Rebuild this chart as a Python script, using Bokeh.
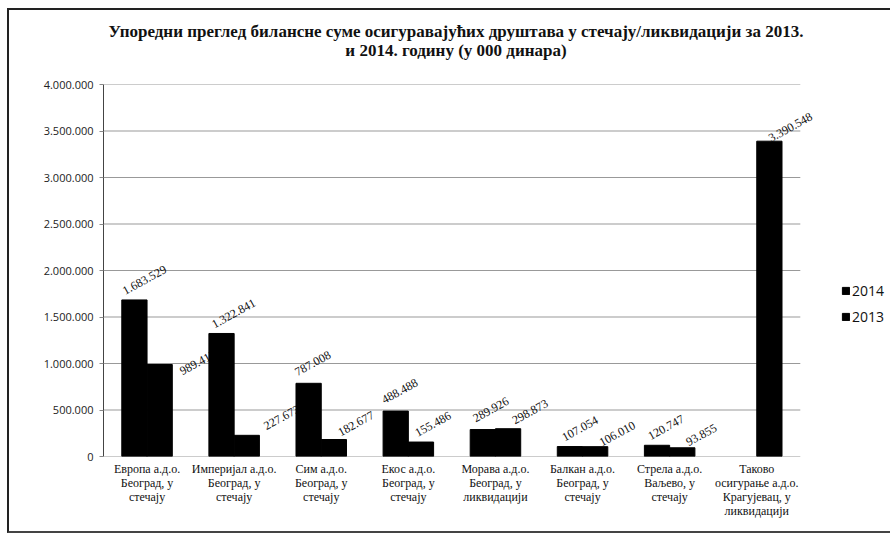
from bokeh.plotting import figure
from bokeh.models import (ColumnDataSource, Range1d, FixedTicker,
                          CustomJSTickFormatter, Legend, LegendItem, Div)
from bokeh.layouts import column
from bokeh.transform import dodge
from bokeh.core.properties import value
from bokeh.embed import file_html
from bokeh.resources import INLINE

# ---- data ----
categories = [
    "Европа а.д.о.\nБеоград, у\nстечају",
    "Империјал а.д.о.\nБеоград, у\nстечају",
    "Сим а.д.о.\nБеоград, у\nстечају",
    "Екос а.д.о.\nБеоград, у\nстечају",
    "Морава а.д.о.\nБеоград, у\nликвидацији",
    "Балкан а.д.о.\nБеоград, у\nстечају",
    "Стрела а.д.о.\nВаљево, у\nстечају",
    "Таково\nосигурање а.д.о.\nКрагујевац, у\nликвидацији",
]
values_2014 = [1683529, 1322841, 787008, 488488, 289926, 107054, 120747, float("nan")]
values_2013 = [989412, 227673, 182677, 155486, 298873, 106010, 93855, 3390548]
y_ticks = [0, 500000, 1000000, 1500000, 2000000, 2500000, 3000000, 3500000, 4000000]
series_names = ["2014", "2013"]

title_line1 = "Упоредни преглед билансне суме осигуравајућих друштава у стечају/ликвидацији за 2013."
title_line2 = "и 2014. годину (у 000 динара)"

def fmt(v):
    return "" if v != v else f"{int(v):,}".replace(",", ".")

n = len(categories)
idx = list(range(n))

# label pixel offsets (style only; screen y grows downward)
dx14 = [10, 12, 4, 4, 8, 10, 9, 0]
dy14 = [-20, -20, -20, -20, -20, -18, -18, 0]
dx13 = [38, 35, 22, 12, 22, 22, 19, 21]
dy13 = [-2, -18, -16, -18, -17, -13, -13, -14]

src = ColumnDataSource(dict(
    idx=idx, v14=values_2014, v13=values_2013,
    l14=[fmt(v) for v in values_2014], l13=[fmt(v) for v in values_2013],
    dx14=dx14, dy14=dy14, dx13=dx13, dy13=dy13,
))

W, H = 881, 457
title_div = Div(
    text=(f'<div style="display:block;width:{W}px;box-sizing:border-box;'
          f'padding-top:12px;padding-left:13px;text-align:center;'
          f'font-family:\'Liberation Serif\';font-weight:bold;font-size:17px;'
          f'line-height:19px;color:#111111">{title_line1}<br>{title_line2}</div>'),
    width=W, height=64)
title_div.margin = 0

# layout geometry (pixels)
ML, MR, MT, MB = 94, 2, 10, 75
cat_px = 87.1                       # width of one category slot in the reference
x_end = -0.5 + (W - ML - MR) / cat_px

p = figure(width=W, height=H, x_range=Range1d(-0.5, x_end),
           y_range=Range1d(0, 4000000), output_backend="svg", toolbar_location=None,
           min_border_left=ML, min_border_right=MR, min_border_bottom=MB, min_border_top=MT)
p.margin = 0
p.title.visible = False
p.outline_line_color = None
p.background_fill_color = "white"
p.xgrid.grid_line_color = None
p.ygrid.grid_line_color = None

# horizontal grid lines over the category span only
p.segment(x0=[-0.5] * len(y_ticks), x1=[n - 0.5] * len(y_ticks), y0=y_ticks, y1=y_ticks,
          line_color="#999999", line_width=1)

xl14 = dodge("idx", -0.145)
xl13 = dodge("idx", 0.145)

# labels first so that bars cover overlapping tails (as in reference)
for xx, yy, tt, dx, dy in [(xl14, "v14", "l14", "dx14", "dy14"), (xl13, "v13", "l13", "dx13", "dy13")]:
    p.text(x=xx, y=yy, text=tt, source=src, x_offset=dx, y_offset=dy, angle=0.5,
           text_align="center", text_baseline="middle",
           text_font=value("Liberation Serif"), text_font_size="12px", text_color="#111111")

r14 = p.vbar(x=xl14, top="v14", width=0.29, source=src, fill_color="black", line_color="black")
r13 = p.vbar(x=xl13, top="v13", width=0.29, source=src, fill_color="black", line_color="black")

legend = Legend(items=[LegendItem(label=series_names[0], renderers=[r14]),
                       LegendItem(label=series_names[1], renderers=[r13])],
                location=(738, 130), padding=0, margin=0, border_line_color=None,
                background_fill_alpha=0, glyph_width=9, glyph_height=9, label_height=14,
                label_standoff=2, spacing=7,
                label_text_font="Open Sans", label_text_font_size="14px", label_text_color="#111111")
p.add_layout(legend)

p.yaxis.ticker = FixedTicker(ticks=y_ticks)
p.yaxis.formatter = CustomJSTickFormatter(code="return tick.toFixed(0).replace(/\\B(?=(\\d{3})+(?!\\d))/g, '.');")
p.yaxis.major_label_text_font = "Open Sans"
p.yaxis.major_label_text_font_size = "11px"
p.yaxis.major_label_text_color = "#222222"
p.yaxis.axis_line_color = "#444444"
p.yaxis.major_tick_out = 4
p.yaxis.major_tick_in = 0
p.yaxis.major_tick_line_color = "#888888"
p.yaxis.minor_tick_line_color = None
p.yaxis.major_label_standoff = 6

p.xaxis.ticker = FixedTicker(ticks=idx)
p.xaxis.major_label_overrides = {i: c for i, c in zip(idx, categories)}
p.xaxis.major_label_text_font = "Liberation Serif"
p.xaxis.major_label_text_font_size = "12px"
p.xaxis.major_label_text_line_height = 1.0
p.xaxis.major_label_text_color = "#111111"
p.xaxis.axis_line_color = None
p.xaxis.major_tick_line_color = None
p.xaxis.minor_tick_line_color = None
p.xaxis.major_tick_out = 0
p.xaxis.major_label_standoff = 5
p.xaxis.major_label_orientation = "horizontal"

layout = column(title_div, p, spacing=0)
layout.margin = (8, 0, 0, 7)
layout.styles = {"border-left": "2px solid #222", "border-top": "2px solid #222",
                 "border-bottom": "2px solid #444"}

open("out.html", "w").write(file_html(layout, INLINE))
